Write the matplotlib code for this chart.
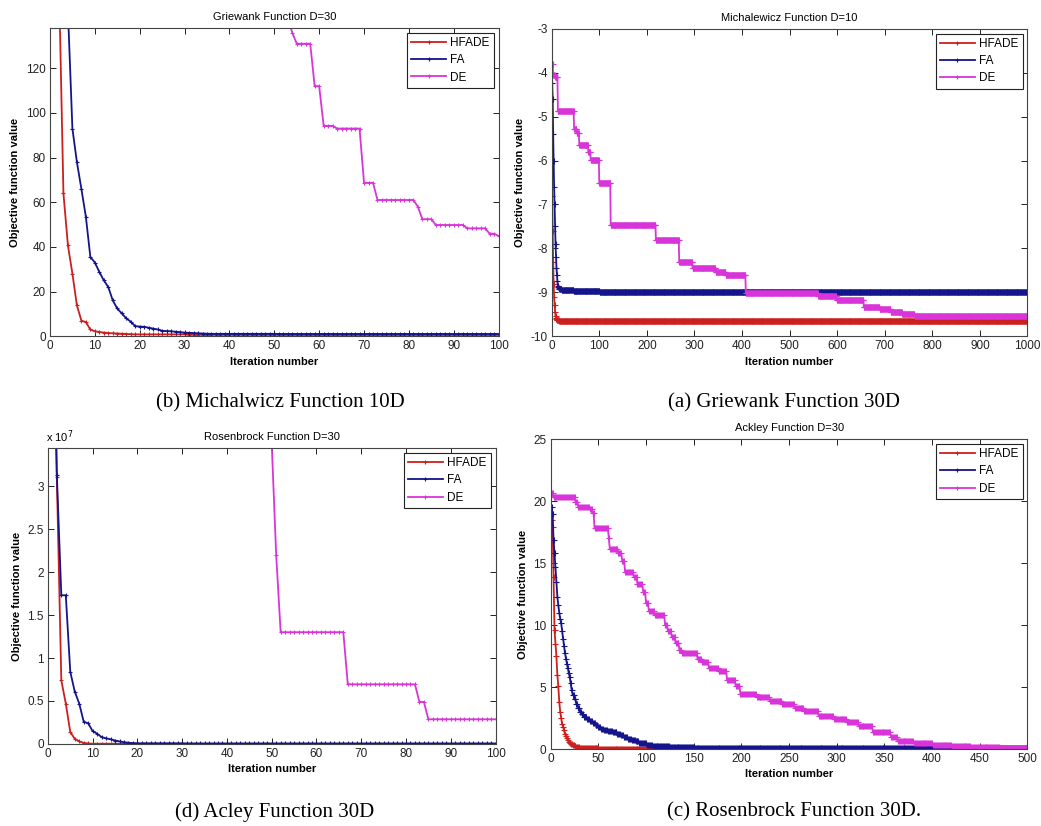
import matplotlib
matplotlib.use('Agg')
import matplotlib.pyplot as plt
import numpy as np
from matplotlib.ticker import FuncFormatter

## Data. Long series are kept as (value, run length) pairs.
legendNames = ['HFADE', 'FA', 'DE']
colorCategory = ['#cc2020', '#14148c', '#d934d9']

# Griewank D=30, 100 iterations
grHfadeVals = [420, 160, 64, 40.7, 28, 13.8, 7, 6.3, 3, 2.2, 1.9, 1.6, 1.4, 1.3, 1.2, 1.1, 1.0, 0.9, 0.8, 0.7, 0.6]
grHfadeRuns = [1] * 18 + [12, 20, 50]
grFaVals = [350, 260, 190, 146, 93, 78, 66, 53.5, 35.5, 33, 28.8, 25, 22, 16, 12.4, 10.2, 8, 6.5, 4.5, 4.3,
            4.2, 3.8, 3.4, 3.0, 2.4, 2.3, 2.2, 2.0, 1.8, 1.6, 1.5, 1.4, 1.3, 1.2, 1.1, 1.05, 1.0]
grFaRuns = [1] * 35 + [15, 50]
grDeVals = [420, 380, 330, 290, 250, 210, 170, 142, 136, 131, 112, 94.2, 93, 68.7, 61, 58, 52.4, 49.8, 48.3, 45.9, 44.9]
grDeRuns = [4, 6, 8, 8, 10, 8, 8, 1, 1, 4, 2, 3, 6, 3, 9, 1, 3, 7, 5, 2, 1]

# Michalewicz D=10, 1000 iterations
miHfadeVals = [-6.8, -7.6, -8.3, -8.8, -9.1, -9.3, -9.45, -9.53, -9.58, -9.61, -9.63, -9.65, -9.66]
miHfadeRuns = [1] * 10 + [5, 10, 975]
miFaVals = [-4.24, -4.6, -5.4, -6.0, -6.6, -7.0, -7.5, -7.9, -8.2, -8.45, -8.6, -8.75, -8.85, -8.88, -8.9,
            -8.92, -8.95, -8.97, -8.99]
miFaRuns = [1] * 15 + [5, 25, 55, 900]
miDeVals = [-3.79, -4.05, -4.1, -4.87, -5.27, -5.38, -5.65, -5.80, -5.99, -6.52, -7.47, -7.81, -8.32, -8.44,
            -8.53, -8.61, -9.01, -9.09, -9.18, -9.33, -9.38, -9.44, -9.50, -9.54]
miDeRuns = [2, 4, 6, 34, 6, 5, 19, 5, 18, 24, 95, 49, 28, 49, 21, 42, 152, 39, 57, 33, 24, 24, 26, 238]

# Rosenbrock D=30, 100 iterations
roHfadeVals = [5.2e7, 3.1e7, 0.74e7, 0.47e7, 0.14e7, 0.06e7, 0.03e7, 0.012e7, 0.006e7, 0.003e7, 0.001e7]
roHfadeRuns = [1] * 9 + [11, 80]
roFaVals = [6.5e7, 3.13e7, 1.73e7, 1.73e7, 0.84e7, 0.61e7, 0.47e7, 0.26e7, 0.24e7, 0.15e7, 0.12e7, 0.08e7,
            0.065e7, 0.055e7, 0.04e7, 0.03e7, 0.02e7, 0.015e7, 0.01e7, 0.008e7, 0.006e7]
roFaRuns = [1] * 19 + [11, 70]
roDeVals = [9.0e7, 7.5e7, 6.2e7, 5.0e7, 4.2e7, 3.5e7, 2.2e7, 1.3e7, 0.694e7, 0.49e7, 0.287e7]
roDeRuns = [10, 10, 10, 10, 9, 1, 1, 15, 16, 2, 16]

# Ackley D=30, 500 iterations
acHfadeVals = [18.5, 17.95, 13.9, 9.6, 8.5, 7.47, 6.0, 5.05, 3.8, 3.0, 2.5, 2.0, 1.8, 1.5, 1.2, 1.05, 0.9, 0.75,
               0.6, 0.48, 0.38, 0.3, 0.21, 0.15, 0.1, 0.07, 0.04, 0.02]
acHfadeRuns = [1] * 20 + [2, 2, 2, 4, 5, 15, 50, 400]
acFaVals = [19.5, 19.0, 16.9, 15.8, 14.7, 13.5, 12.3, 11.6, 11.0, 10.5, 10.16, 9.5, 8.9, 8.3, 7.74, 7.3, 6.9, 6.5,
            6.13, 5.8, 5.3, 4.78, 4.4, 4.0, 3.6, 3.3, 3.0, 2.8, 2.6, 2.45, 2.3, 2.1, 1.95, 1.8, 1.65, 1.55, 1.45,
            1.35, 1.25, 1.1, 0.95, 0.8, 0.7, 0.62, 0.52, 0.45, 0.36, 0.28, 0.22, 0.17, 0.13, 0.1, 0.07, 0.05]
acFaRuns = [1] * 22 + [2, 2, 2, 2, 2, 2, 3, 3, 3, 3, 3, 3, 3, 4, 5, 5, 4, 3, 4, 4, 4, 4, 4, 4, 6, 10, 8, 10, 16,
                       20, 30, 300]
acDeVals = [20.65, 20.3, 19.97, 19.5, 19.4, 19.03, 17.8, 17.0, 16.15, 15.8, 15.2, 14.32, 13.92, 13.3, 12.7, 11.8,
            11.1, 10.8, 10.0, 9.5, 9.08, 8.55, 8.0, 7.74, 7.3, 7.0, 6.5, 6.26, 5.59, 5.1, 4.45, 4.2, 3.9, 3.65,
            3.3, 3.05, 2.7, 2.45, 2.15, 1.88, 1.34, 0.97, 0.62, 0.5, 0.35, 0.22, 0.16, 0.12]
acDeRuns = [2, 23, 3, 12, 3, 2, 15, 1, 9, 4, 3, 9, 4, 6, 3, 3, 6, 11, 3, 4, 4, 4, 3, 16, 5, 7, 10, 9, 9, 5, 17,
            14, 13, 13, 10, 15, 16, 14, 12, 15, 19, 7, 17, 20, 20, 20, 30, 30]


def expand(vals, runs):
    return np.repeat(np.array(vals, dtype=float), runs)
#enddef

plt.rcParams['font.family'] = ['Liberation Sans', 'DejaVu Sans']
plt.rcParams['axes.unicode_minus'] = False

fig = plt.figure(figsize=(10.41, 8.26), dpi=100)

panels = [
    # axes rect, title, series, xlim, xticks, ylim, yticks, marker size
    ([0.048, 0.593, 0.431, 0.373], 'Griewank Function D=30',
     [(grHfadeVals, grHfadeRuns), (grFaVals, grFaRuns), (grDeVals, grDeRuns)],
     (0, 100), np.arange(0, 101, 10), (0, 138), np.arange(0, 121, 20), 3.5),
    ([0.530, 0.593, 0.457, 0.372], 'Michalewicz Function D=10',
     [(miHfadeVals, miHfadeRuns), (miFaVals, miFaRuns), (miDeVals, miDeRuns)],
     (0, 1000), np.arange(0, 1001, 100), (-10, -3), np.arange(-10, -2, 1), 4.5),
    ([0.046, 0.0993, 0.430, 0.358], 'Rosenbrock Function D=30',
     [(roHfadeVals, roHfadeRuns), (roFaVals, roFaRuns), (roDeVals, roDeRuns)],
     (0, 100), np.arange(0, 101, 10), (0, 3.44e7), np.arange(0, 3.01e7, 0.5e7), 3.5),
    ([0.529, 0.0932, 0.458, 0.375], 'Ackley Function D=30',
     [(acHfadeVals, acHfadeRuns), (acFaVals, acFaRuns), (acDeVals, acDeRuns)],
     (0, 500), np.arange(0, 501, 50), (0, 25), np.arange(0, 26, 5), 4.0),
]

allAxes = []
for rect, title, series, xlim, xticks, ylim, yticks, msize in panels:
    ax = fig.add_axes(rect)
    for i, (vals, runs) in enumerate(series):
        y = expand(vals, runs)
        x = np.arange(1, len(y) + 1)
        ax.plot(x, y, color=colorCategory[i], linewidth=1.3, marker='+', markersize=msize,
                markeredgewidth=0.8, label=legendNames[i])
    #endfor
    ax.set_xlim(*xlim)
    ax.set_ylim(*ylim)
    ax.set_xticks(xticks)
    ax.set_yticks(yticks)
    ax.set_title(title, fontsize=8, pad=6)
    ax.set_xlabel('Iteration number', fontsize=8, fontweight='bold', labelpad=3)
    ax.set_ylabel('Objective function value', fontsize=8, fontweight='bold', labelpad=4)
    ax.tick_params(direction='in', top=True, right=True, length=4, width=0.7,
                   labelsize=8.5, colors='#222222', pad=3)
    for s in ax.spines.values():
        s.set_color('#444444')
        s.set_linewidth(0.8)
    #endfor
    leg = ax.legend(loc='upper right', fontsize=8.5, frameon=True, fancybox=False, framealpha=1,
                    edgecolor='#222222', borderaxespad=0.4, handlelength=2.9, handletextpad=0.4,
                    labelspacing=0.45, borderpad=0.35, markerscale=3.5 / msize)
    leg.get_frame().set_linewidth(0.8)
    allAxes.append(ax)
#endfor

## Rosenbrock y axis in units of 1e7, MATLAB style exponent label.
allAxes[2].yaxis.set_major_formatter(FuncFormatter(lambda v, _: '%g' % (v / 1e7)))
allAxes[2].text(-0.005, 1.04, r'x 10$^{7}$', transform=allAxes[2].transAxes, fontsize=8,
                ha='left', va='center')

## Sub-figure captions.
captionFont = dict(fontsize=15, family=['Liberation Serif', 'DejaVu Serif'], ha='center', va='center')
fig.text(280 / 1041, 1 - 403 / 826, '(b) Michalwicz Function 10D', **captionFont)
fig.text(784 / 1041, 1 - 403 / 826, '(a) Griewank Function 30D', **captionFont)
fig.text(275 / 1041, 1 - 812 / 826, '(d) Acley Function 30D', **captionFont)
fig.text(794 / 1041, 1 - 812 / 826, '(c) Rosenbrock Function 30D.', **captionFont)

fig.savefig('out.png', dpi=100)
